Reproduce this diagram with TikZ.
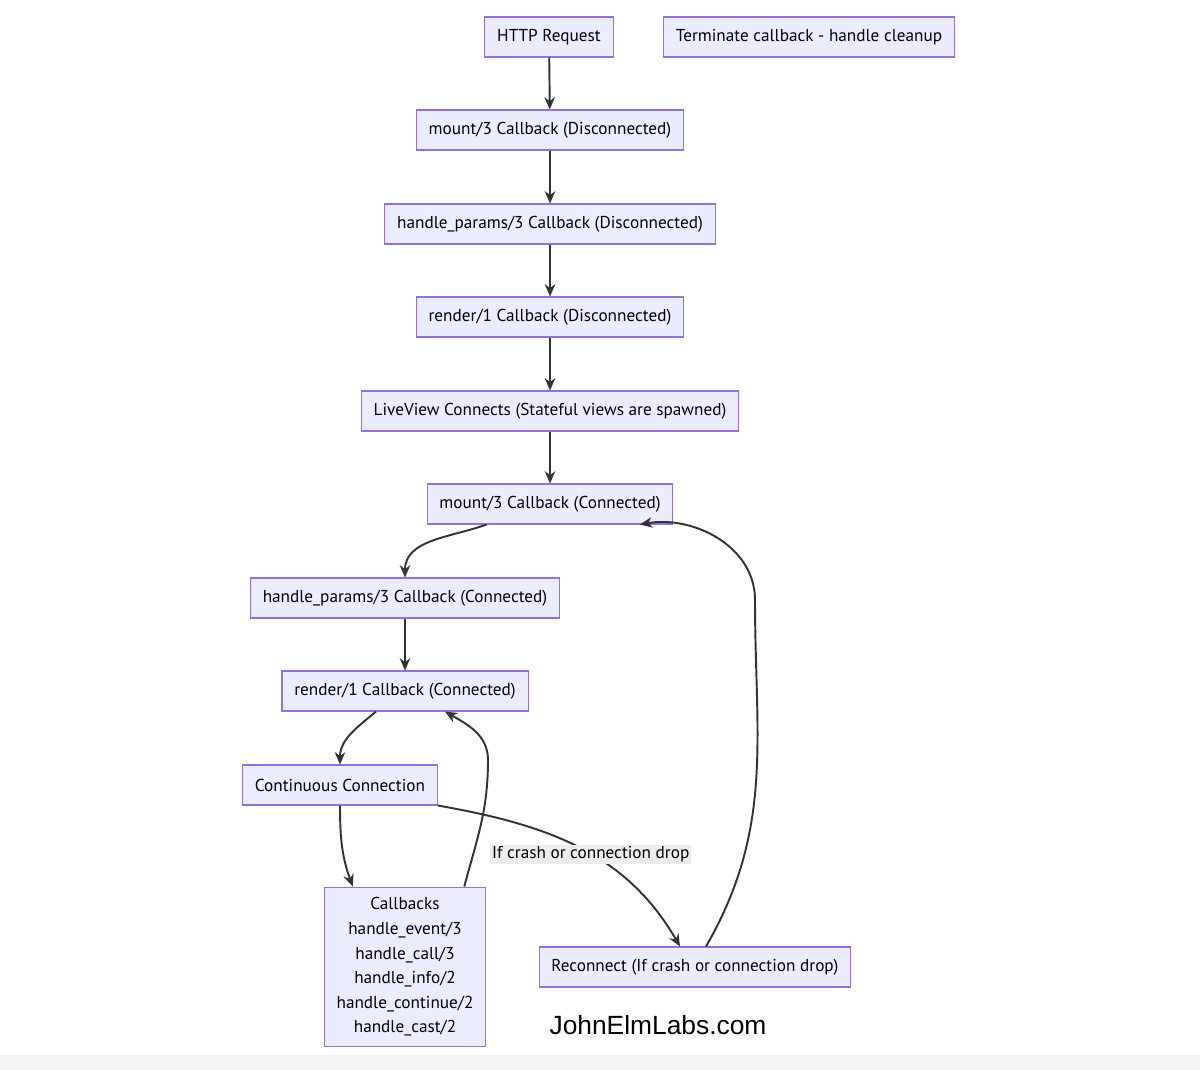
\documentclass[tikz,border=0pt]{standalone}
\usepackage{fontspec}
\setmainfont{PT Sans}
\usetikzlibrary{arrows.meta}
\definecolor{boxfill}{HTML}{ECECFF}
\definecolor{boxline}{HTML}{9370DB}
\definecolor{edge}{HTML}{333333}
\begin{document}
\begin{tikzpicture}[x=0.02cm,y=-0.02cm,
        every node/.style={font=\fontsize{9.8}{14}\selectfont},
        box/.style={draw=boxline, fill=boxfill, line width=0.6pt, minimum height=0.8cm, inner xsep=7pt, align=center},
        flow/.style={draw=edge, line width=1.1pt, -{Stealth[length=7pt,width=6pt]}}]
    \useasboundingbox (0,0) rectangle (1200,1070);
    \fill[gray!8] (0,1055) rectangle (1200,1070);

    \node[box] (http) at (549,37) {HTTP Request};
    \node[box] (term) at (809,37) {Terminate callback - handle cleanup};
    \node[box] (mountd) at (550,130) {mount/3 Callback (Disconnected)};
    \node[box] (paramsd) at (550,224) {handle\_params/3 Callback (Disconnected)};
    \node[box] (renderd) at (550,317) {render/1 Callback (Disconnected)};
    \node[box] (live) at (550,411) {LiveView Connects (Stateful views are spawned)};
    \node[box] (mountc) at (550,504) {mount/3 Callback (Connected)};
    \node[box] (paramsc) at (405,598) {handle\_params/3 Callback (Connected)};
    \node[box] (renderc) at (405,691) {render/1 Callback (Connected)};
    \node[box] (cont) at (340,785) {Continuous Connection};
    \node[box, inner ysep=6pt] (cbs) at (405,967) {Callbacks\\handle\_event/3\\handle\_call/3\\handle\_info/2\\handle\_continue/2\\handle\_cast/2};
    \node[box] (recon) at (695,967) {Reconnect (If crash or connection drop)};
    \node[font=\fontsize{15}{18}\selectfont\sffamily] (brand) at (658,1025) {\fontspec{Liberation Sans}JohnElmLabs.com};

    \draw[flow] (http) -- (mountd);
    \draw[flow] (mountd) -- (paramsd);
    \draw[flow] (paramsd) -- (renderd);
    \draw[flow] (renderd) -- (live);
    \draw[flow] (live) -- (mountc);
    \draw[flow] (mountc.south west) ++(60,0) coordinate (m1) (m1) to[out=200,in=90] (paramsc.north);
    \draw[flow] (paramsc) -- (renderc);
    \draw[flow] (renderc.south) ++(-29,0) coordinate (r1) (r1) to[out=220,in=90] (cont.north);
    \draw[flow] (cont.south) to[out=270,in=110] ([xshift=0.58cm]cbs.north west);
    \draw[flow] ([xshift=-0.44cm]cbs.north east) to[out=75,in=270] (488,760) to[out=90,in=330] ([xshift=0.8cm]renderc.south);
    \draw[flow] (cont.south east) to[out=-10,in=120] node[pos=0.55, fill=gray!15, inner sep=1pt] {If crash or connection drop} ([xshift=-0.3cm]recon.north);
    \draw[flow] ([xshift=0.22cm]recon.north) to[out=60,in=270] (755,600) to[out=90,in=10] ([xshift=1.8cm]mountc.south);
\end{tikzpicture}
\end{document}
